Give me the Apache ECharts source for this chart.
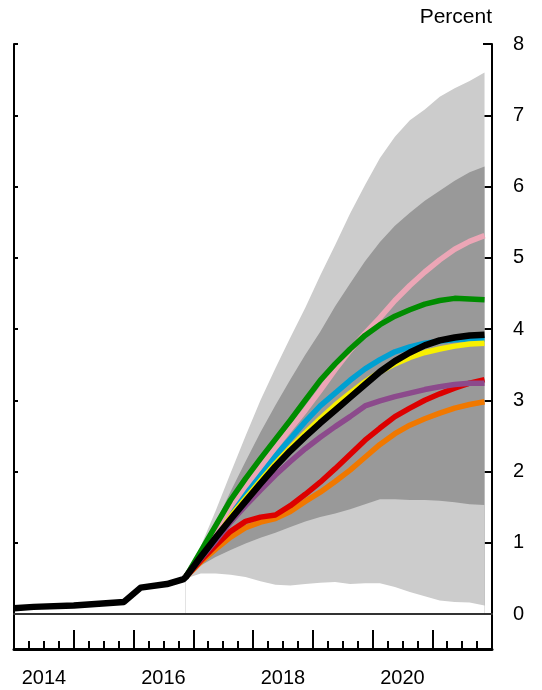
<!DOCTYPE html>
<html>
<head>
<meta charset="utf-8">
<script src="https://cdn.jsdelivr.net/npm/echarts@6/dist/echarts.min.js"></script>
<style>
  html, body { margin: 0; padding: 0; background: #fff; }
  #chart { width: 542px; height: 690px; }
</style>
</head>
<body>
<div id="chart"></div>
<script>
// history of the rate
var histYears = [2014.0, 2014.33, 2015.0, 2015.84, 2016.12, 2016.56, 2016.84];
var histRate = [0.08, 0.10, 0.12, 0.17, 0.37, 0.42, 0.49];

// projection quarters
var projYears = [2016.875, 2017.125, 2017.375, 2017.625, 2017.875, 2018.125, 2018.375,
  2018.625, 2018.875, 2019.125, 2019.375, 2019.625, 2019.875, 2020.125, 2020.375,
  2020.625, 2020.875, 2021.125, 2021.375, 2021.625, 2021.875];

var blackPath = [0.52, 0.80, 1.07, 1.33, 1.58, 1.83, 2.07, 2.29, 2.49, 2.68, 2.86, 3.04, 3.22, 3.40, 3.55, 3.67, 3.77, 3.84, 3.88, 3.91, 3.92];
var greenPath = [0.52, 0.88, 1.24, 1.60, 1.90, 2.18, 2.45, 2.72, 3.00, 3.28, 3.51, 3.72, 3.91, 4.06, 4.18, 4.27, 4.35, 4.40, 4.43, 4.42, 4.41];
var pinkPath = [0.52, 0.86, 1.19, 1.51, 1.80, 2.07, 2.34, 2.60, 2.86, 3.14, 3.43, 3.70, 3.94, 4.16, 4.40, 4.61, 4.80, 4.97, 5.12, 5.23, 5.31];
var bluePath = [0.52, 0.84, 1.15, 1.44, 1.71, 1.97, 2.22, 2.46, 2.70, 2.92, 3.10, 3.28, 3.44, 3.57, 3.68, 3.75, 3.80, 3.83, 3.85, 3.86, 3.86];
var yellowPath = [0.52, 0.82, 1.10, 1.37, 1.62, 1.87, 2.11, 2.33, 2.54, 2.74, 2.93, 3.10, 3.26, 3.40, 3.51, 3.60, 3.67, 3.72, 3.76, 3.79, 3.80];
var purplePath = [0.52, 0.78, 1.03, 1.29, 1.52, 1.74, 1.95, 2.14, 2.32, 2.48, 2.63, 2.77, 2.92, 2.99, 3.05, 3.10, 3.15, 3.19, 3.22, 3.24, 3.24];
var redPath = [0.52, 0.75, 0.96, 1.16, 1.30, 1.36, 1.39, 1.52, 1.68, 1.85, 2.04, 2.24, 2.44, 2.61, 2.77, 2.89, 3.00, 3.09, 3.17, 3.24, 3.29];
var orangePath = [0.52, 0.73, 0.91, 1.08, 1.21, 1.29, 1.34, 1.44, 1.58, 1.71, 1.86, 2.02, 2.20, 2.38, 2.53, 2.65, 2.74, 2.82, 2.89, 2.94, 2.98];

// confidence bands
var outerUpper = [0.52, 0.95, 1.45, 1.98, 2.50, 3.00, 3.45, 3.88, 4.30, 4.75, 5.18, 5.62, 6.02, 6.40, 6.70, 6.93, 7.08, 7.26, 7.38, 7.48, 7.60];
var innerUpper = [0.52, 0.87, 1.28, 1.72, 2.14, 2.55, 2.93, 3.29, 3.64, 3.96, 4.32, 4.64, 4.95, 5.22, 5.45, 5.63, 5.80, 5.94, 6.08, 6.20, 6.28];
var innerLower = [0.52, 0.68, 0.80, 0.90, 0.99, 1.07, 1.14, 1.22, 1.30, 1.36, 1.41, 1.47, 1.54, 1.61, 1.61, 1.60, 1.60, 1.59, 1.57, 1.54, 1.53];
var outerLower = [0.50, 0.57, 0.57, 0.55, 0.52, 0.46, 0.41, 0.40, 0.42, 0.44, 0.45, 0.42, 0.43, 0.43, 0.38, 0.31, 0.25, 0.19, 0.17, 0.16, 0.12];

var yearLabels = ['2014', '2015', '2016', '2017', '2018', '2019', '2020', '2021'];

function pairs(xs, ys) {
  return xs.map(function (x, i) { return [x, ys[i]]; });
}

var font = 'Liberation Sans, Arial, sans-serif';

function band(name, values, color) {
  return {
    name: name, type: 'line', xAxisIndex: 0, yAxisIndex: 0,
    data: pairs(projYears, values), symbol: 'none', silent: true,
    lineStyle: { width: 0, opacity: 0 },
    areaStyle: { color: color, opacity: 1, origin: 'start' }
  };
}

function path(name, values, color, width) {
  return {
    name: name, type: 'line', xAxisIndex: 0, yAxisIndex: 0,
    data: values, symbol: 'none', silent: true,
    lineStyle: { color: color, width: width, join: 'round' }
  };
}

var blackAll = pairs(histYears, histRate).concat(pairs(projYears, blackPath));

let option = {
  animation: false,
  backgroundColor: '#fff',
  title: {
    text: 'Percent', right: 50, top: 7, padding: 0,
    textStyle: { fontFamily: font, fontSize: 21, fontWeight: 'normal', color: '#000' }
  },
  grid: [
    { left: 14, right: 50, top: 44, height: 570 },
    { left: 14, right: 50, top: 614, height: 35 }
  ],
  xAxis: [
    {
      gridIndex: 0, type: 'value', min: 2014, max: 2022, z: 10,
      axisLine: { show: true, onZero: false, lineStyle: { color: '#333', width: 2 } },
      axisTick: { show: false }, axisLabel: { show: false }, splitLine: { show: false }
    },
    {
      gridIndex: 1, type: 'value', min: 2014, max: 2022, interval: 1, position: 'bottom',
      axisLine: { show: true, onZero: false, lineStyle: { color: '#000', width: 3 } },
      axisTick: { show: true, inside: true, length: 19, lineStyle: { color: '#000', width: 2 } },
      minorTick: { show: true, splitNumber: 4, length: 8, lineStyle: { color: '#000', width: 2 } },
      axisLabel: { show: false }, splitLine: { show: false }
    },
    {
      gridIndex: 1, type: 'category', data: yearLabels, position: 'bottom',
      axisLine: { show: false }, axisTick: { show: false },
      axisLabel: { interval: 1, margin: 19, fontFamily: font, fontSize: 20, color: '#000' }
    }
  ],
  yAxis: [
    {
      gridIndex: 0, type: 'value', min: 0, max: 8, interval: 1, position: 'left',
      axisLine: { show: true, lineStyle: { color: '#000', width: 2 } },
      axisTick: { show: true, inside: true, length: 4, lineStyle: { color: '#000', width: 2 } },
      axisLabel: { show: false }, splitLine: { show: false }
    },
    {
      gridIndex: 0, type: 'value', min: 0, max: 8, interval: 1, position: 'right',
      axisLine: { show: true, lineStyle: { color: '#000', width: 2 } },
      axisTick: { show: true, inside: true, length: 9, lineStyle: { color: '#000', width: 2 } },
      axisLabel: { margin: 21, fontFamily: font, fontSize: 20, color: '#000' },
      splitLine: { show: false }
    },
    {
      gridIndex: 1, type: 'value', min: 0, max: 1, position: 'left',
      axisLine: { show: true, lineStyle: { color: '#000', width: 2 } },
      axisTick: { show: false }, axisLabel: { show: false }, splitLine: { show: false }
    },
    {
      gridIndex: 1, type: 'value', min: 0, max: 1, position: 'right',
      axisLine: { show: true, lineStyle: { color: '#000', width: 2 } },
      axisTick: { show: false }, axisLabel: { show: false }, splitLine: { show: false }
    }
  ],
  series: [
    band('outer upper', outerUpper, '#cccccc'),
    band('inner upper', innerUpper, '#999999'),
    band('inner lower', innerLower, '#cccccc'),
    band('outer lower', outerLower, '#ffffff'),
    path('orange', pairs(projYears, orangePath), '#f07800', 5.5),
    path('red', pairs(projYears, redPath), '#dd0000', 5.5),
    path('purple', pairs(projYears, purplePath), '#8c4a8c', 5.5),
    path('blue', pairs(projYears, bluePath), '#00a0d2', 5.5),
    path('yellow', pairs(projYears, yellowPath), '#f8f000', 5.5),
    path('pink', pairs(projYears, pinkPath), '#eca6b6', 5.5),
    path('green', pairs(projYears, greenPath), '#008c00', 5.5),
    path('black', blackAll, '#000000', 6.5)
  ]
};

var myChart = echarts.init(document.getElementById('chart'));
myChart.setOption(option);
</script>
</body>
</html>
